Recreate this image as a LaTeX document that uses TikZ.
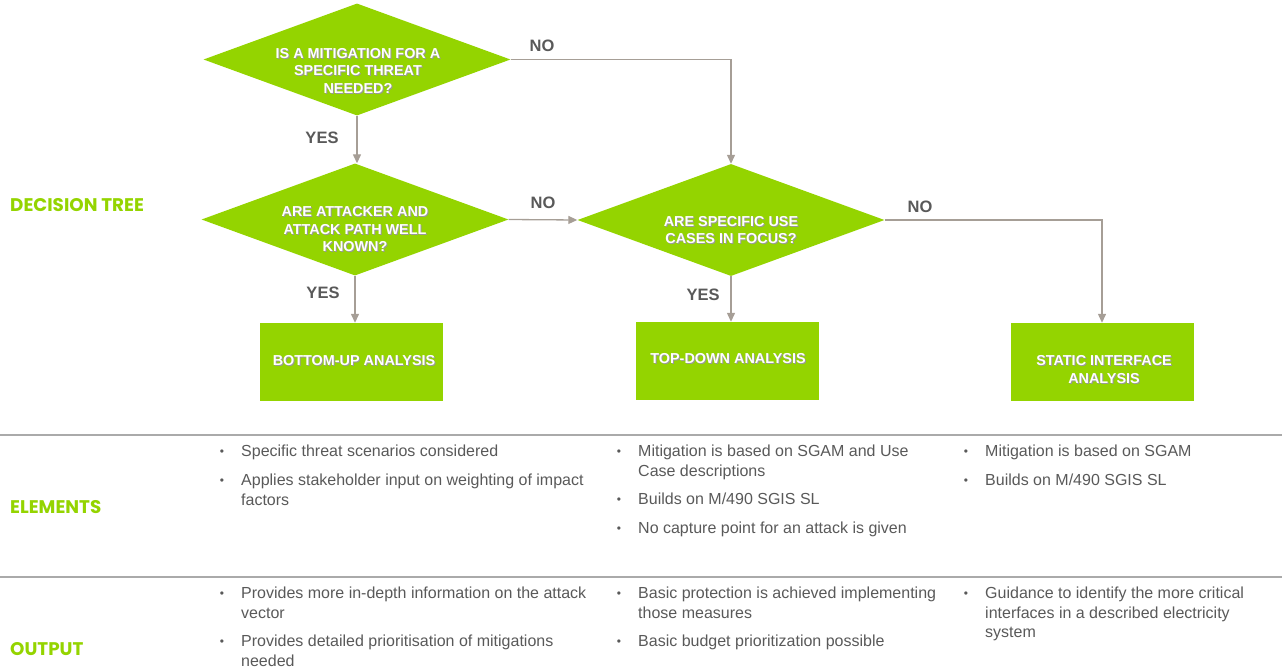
\documentclass[tikz,border=0pt]{standalone}
\usepackage{fontspec}
\setmainfont{Liberation Sans}
\newfontfamily\headfont{Poppins}
\usetikzlibrary{shapes.geometric,arrows.meta,calc}

\definecolor{leaf}{RGB}{148,212,0}
\definecolor{ink}{RGB}{89,89,89}
\definecolor{wire}{RGB}{166,158,150}
\definecolor{rulegray}{RGB}{170,170,170}

% white caption text with a soft drop shadow, one line at a time
\newcommand\sh[1]{\makebox[0pt][l]{\hspace{1pt}\raisebox{-1pt}{\textcolor{black!40}{#1}}}#1}

% bullet entry: name, x, y (top of first line), text
\newcommand\bulletentry[4]{%
  \node[item] (#1) at (#2,#3) {#4};
  \node[dot] (#1-dot) at ([xshift=-19pt,yshift=-7.5pt]#1.north west) {\textbullet};}

\begin{document}
\begin{tikzpicture}[x=1pt,y=-1pt,
  dia/.style={diamond, fill=leaf, inner sep=0pt, minimum width=307pt, minimum height=112pt},
  box/.style={rectangle, fill=leaf, inner sep=0pt, minimum width=183pt, minimum height=78pt},
  qtext/.style={text=white, font=\bfseries\fontsize{14.4}{17.5}\selectfont, align=center, inner sep=0pt},
  ans/.style={text=ink, font=\bfseries\fontsize{16.5}{18}\selectfont, inner sep=0pt},
  flow/.style={draw=wire, line width=1.3pt, -{Triangle[length=9pt,width=8pt]}},
  head/.style={text=leaf, font=\headfont\bfseries\fontsize{18.3}{21}\selectfont, anchor=west, inner sep=0pt},
  item/.style={text=ink, font=\fontsize{16}{19.5}\selectfont, align=left, anchor=north west, inner sep=0pt},
  dot/.style={text=ink, font=\fontsize{12}{12}\selectfont, inner sep=0pt},
  sep/.style={draw=rulegray, line width=1.2pt}]

\useasboundingbox (0,0) rectangle (1282,669);

% section headings
\node[head] (hTree) at (10,205) {DECISION TREE};
\node[head] (hElem) at (10,507) {ELEMENTS};
\node[head] (hOut)  at (10,649) {OUTPUT};

% section rules
\draw[sep] (0,435) -- (1282,435);
\draw[sep] (0,577) -- (1282,577);

% decisions
\node[dia] (d1) at (357,59.5) {};
\node[dia] (d2) at (355,219.5) {};
\node[dia] (d3) at (731,220) {};
\node[qtext] (d1t) at (358,71) {\sh{IS A MITIGATION FOR A}\\\sh{SPECIFIC THREAT}\\\sh{NEEDED?}};
\node[qtext] (d2t) at (355,230) {\sh{ARE ATTACKER AND}\\\sh{ATTACK PATH WELL}\\\sh{KNOWN?}};
\node[qtext] (d3t) at (731,230.5) {\sh{ARE SPECIFIC USE}\\\sh{CASES IN FOCUS?}};

% outcomes
\node[box] (bu) at (351.5,362) {};
\node[box] (td) at (727.5,361) {};
\node[box] (si) at (1102,362) {};
\node[qtext] (but) at (354,361) {\sh{BOTTOM-UP ANALYSIS}};
\node[qtext] (tdt) at (728,359) {\sh{TOP-DOWN ANALYSIS}};
\node[qtext] (sit) at (1104,370) {\sh{STATIC INTERFACE}\\\sh{ANALYSIS}};

% connectors
\draw[flow] (d1.south) -- (d1.south |- d2.north);
\draw[flow] (d1.east) -| (d3.north);
\draw[flow] (d2.east) -- (d3.west);
\draw[flow] (d3.east) -| (si.north);
\draw[flow] (d2.south) -- (d2.south |- bu.north);
\draw[flow] (d3.south) -- (d3.south |- td.north);

% answers
\node[ans] (a1) at (322,138) {YES};
\node[ans] (a2) at (542,46)  {NO};
\node[ans] (a3) at (543,203) {NO};
\node[ans] (a4) at (920,207) {NO};
\node[ans] (a5) at (323,293) {YES};
\node[ans] (a6) at (703,295) {YES};

% elements
\bulletentry{e11}{241}{445}{Specific threat scenarios considered}
\bulletentry{e12}{241}{474}{Applies stakeholder input on weighting of impact\\factors}
\bulletentry{e21}{638}{445}{Mitigation is based on SGAM and Use\\Case descriptions}
\bulletentry{e22}{638}{493}{Builds on M/490 SGIS SL}
\bulletentry{e23}{638}{522}{No capture point for an attack is given}
\bulletentry{e31}{985}{445}{Mitigation is based on SGAM}
\bulletentry{e32}{985}{474}{Builds on M/490 SGIS SL}

% output
\bulletentry{o11}{241}{587}{Provides more in-depth information on the attack\\vector}
\bulletentry{o12}{241}{635}{Provides detailed prioritisation of mitigations\\needed}
\bulletentry{o21}{638}{587}{Basic protection is achieved implementing\\those measures}
\bulletentry{o22}{638}{635}{Basic budget prioritization possible}
\bulletentry{o31}{985}{587}{Guidance to identify the more critical\\interfaces in a described electricity\\system}

\end{tikzpicture}
\end{document}
